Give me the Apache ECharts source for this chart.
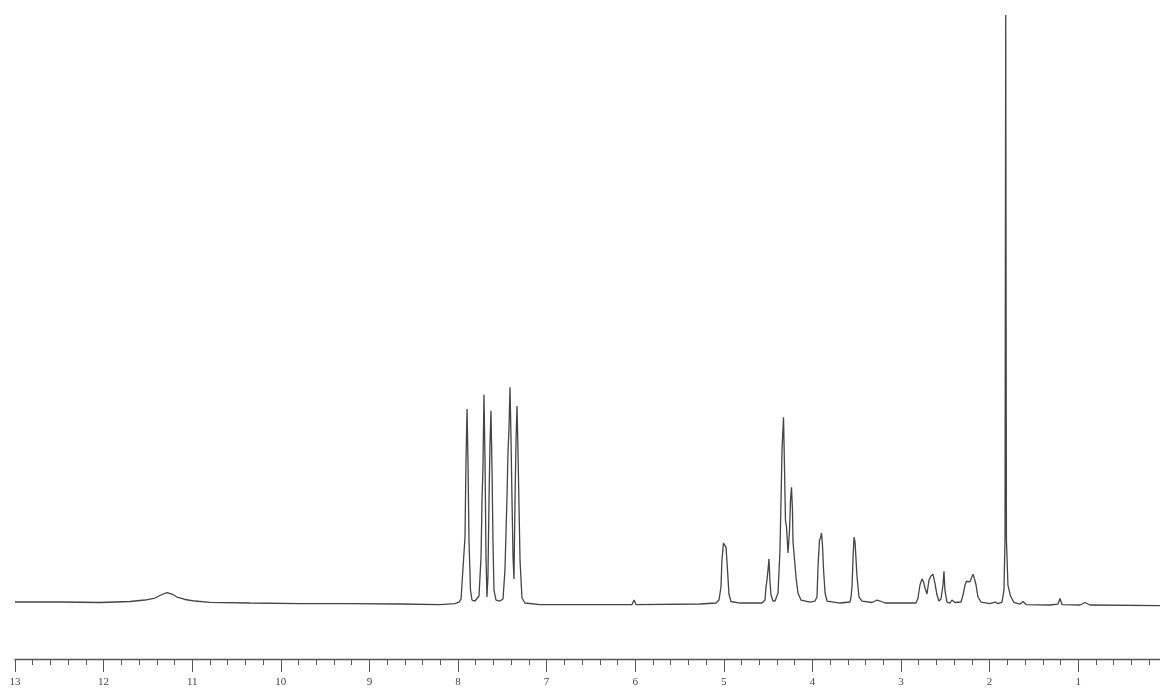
<!DOCTYPE html>
<html>
<head>
<meta charset="utf-8">
<script src="https://cdn.jsdelivr.net/npm/echarts@6/dist/echarts.min.js"></script>
<style>
html,body{margin:0;padding:0;background:#fff;}
#chart{width:1160px;height:690px;}
</style>
</head>
<body>
<div id="chart"></div>
<script>
// Chemical shift (ppm) of traced points along the spectrum
var shiftPpm = [
13.000,12.492,12.041,11.702,11.533,11.420,11.341,11.284,11.228,11.172,11.081,10.968,10.799,10.348,9.783,9.219,8.655,8.203,
8.034,7.989,7.966,7.944,7.921,7.910,7.898,7.887,7.876,7.859,7.842,7.808,7.763,7.740,7.729,7.718,7.707,7.695,7.684,7.673,
7.662,7.650,7.639,7.628,7.616,7.605,7.594,7.571,7.526,7.492,7.470,7.447,7.436,7.425,7.413,7.402,7.391,7.379,7.368,7.357,
7.345,7.334,7.323,7.312,7.300,7.278,7.244,7.074,6.397,6.036,6.013,5.991,5.269,
5.088,5.054,5.032,5.021,5.004,4.987,4.975,4.958,4.942,4.919,4.818,
4.569,4.535,4.524,4.513,4.501,4.490,4.479,4.467,4.445,4.422,4.388,4.366,4.354,4.343,4.326,4.315,4.304,4.292,4.275,4.258,
4.247,4.236,4.225,4.219,4.208,4.185,4.163,4.129,4.027,
3.971,3.948,3.937,3.920,3.908,3.897,3.885,3.874,3.857,3.835,3.688,
3.576,3.564,3.553,3.541,3.530,3.519,3.508,3.496,3.474,3.440,3.327,3.271,3.237,3.181,
2.831,2.808,2.786,2.763,2.746,2.729,2.707,2.684,2.662,2.639,2.617,2.594,2.572,2.549,2.526,2.515,2.504,2.481,2.447,2.425,
2.391,2.323,2.300,2.278,2.261,2.244,2.221,2.205,2.187,2.170,2.153,2.131,2.097,1.996,1.939,1.905,
1.860,1.838,1.826,1.818,1.810,1.793,1.764,1.725,1.657,1.623,1.589,1.318,1.228,1.206,1.183,0.980,0.923,0.867,0.077
];
// Signal intensity (relative, tallest peak = 100)
var intensity = [
0.17,0.17,0.09,0.26,0.51,0.85,1.45,1.75,1.53,1.02,0.60,0.34,0.12,0.00,-0.09,-0.09,-0.17,-0.26,
-0.09,0.17,0.68,0.51,11.2,23.8,33.0,23.8,10.7,2.2,0.51,0.34,1.19,7.8,17.5,23.1,35.4,24.3,7.8,1.02,
4.4,17.5,26.9,32.7,22.6,10.2,2.2,0.51,0.34,0.68,5.6,18.0,25.5,29.4,36.7,28.2,18.0,7.8,4.1,17.0,
27.7,33.5,26.0,17.0,7.3,0.85,0.00,-0.26,-0.26,-0.26,0.51,-0.26,-0.17,
0.00,0.51,2.72,7.3,10.2,10.5,9.5,5.6,1.53,0.26,0.00,
0.00,0.51,2.72,3.9,5.6,7.5,3.6,1.36,0.34,0.34,1.70,9.0,17.5,26.0,31.6,23.1,14.1,12.9,8.5,12.4,
17.5,19.7,15.8,10.4,8.5,4.4,1.70,0.51,0.17,
0.34,1.02,6.1,10.7,11.1,11.9,9.5,5.6,1.70,0.34,0.00,
0.17,1.02,2.72,7.8,11.2,10.4,10.2,4.4,1.02,0.34,0.09,0.51,0.34,0.00,
0.00,0.85,3.06,4.1,3.6,2.55,1.53,3.9,4.6,4.9,3.4,1.36,0.34,0.68,3.06,5.4,2.2,0.17,0.00,0.51,
0.09,0.17,1.36,3.06,3.7,3.4,3.6,4.25,4.9,4.1,3.06,1.02,0.17,-0.09,0.17,-0.09,
0.17,2.2,10.7,100,10.7,3.06,1.19,0.09,-0.17,0.26,-0.26,-0.34,-0.17,0.77,-0.26,-0.34,0.09,-0.34,-0.43
];
// Axis tick labels
var tickLabels = ['0','1','2','3','4','5','6','7','8','9','10','11','12','13'];

var spectrum = shiftPpm.map(function (p, i) { return [p, intensity[i]]; });

var chart = echarts.init(document.getElementById('chart'), null, {renderer: 'canvas'});
chart.setOption({
  animation: false,
  backgroundColor: '#ffffff',
  grid: {left: 15, width: 1151.8, top: 15, bottom: 31, containLabel: false, outerBoundsMode: 'none'},
  xAxis: {
    type: 'value', min: 0, max: 13, interval: 1, inverse: true,
    axisLine: {show: true, onZero: false, lineStyle: {color: '#555', width: 1.3}},
    axisTick: {show: true, inside: false, length: 13, lineStyle: {color: '#555', width: 1}},
    minorTick: {show: true, splitNumber: 5, length: 6, lineStyle: {color: '#555', width: 1}},
    splitLine: {show: false},
    axisLabel: {
      margin: 18, color: '#444', fontFamily: 'Liberation Serif', fontSize: 11,
      formatter: function (v) { return tickLabels[Math.round(v)]; }
    }
  },
  yAxis: {type: 'value', min: -9.52, max: 100, show: false, splitLine: {show: false}},
  series: [{
    type: 'line', data: spectrum, showSymbol: false, symbol: 'none',
    lineStyle: {color: '#444444', width: 1.3}, smooth: false
  }]
});
</script>
</body>
</html>
